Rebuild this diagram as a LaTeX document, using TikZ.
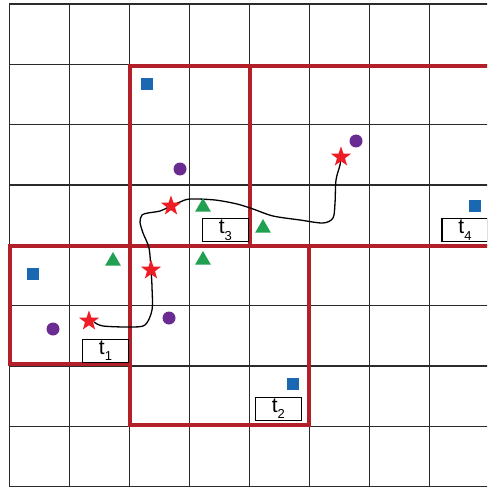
\documentclass[tikz,border=0pt]{standalone}
\usepackage{fontspec}
\setmainfont{Liberation Sans}
\usetikzlibrary{shapes.geometric}
\definecolor{gridc}{HTML}{2B2B2B}
\definecolor{redbox}{HTML}{B3202A}
\definecolor{sqblue}{HTML}{1A67B2}
\definecolor{dotpurple}{HTML}{6A2C91}
\definecolor{trigreen}{HTML}{20A050}
\definecolor{starred}{HTML}{EE1C25}
\newcommand{\tlab}[1]{t\raisebox{-0.32em}{\fontsize{13}{13}\selectfont #1}}
\begin{document}
\begin{tikzpicture}[x=1pt,y=-1pt,
 gridline/.style={draw=gridc, line width=1.1pt},
 region/.style={draw=redbox, line width=4pt},
 sq/.style={rectangle, fill=sqblue, minimum size=12pt, inner sep=0},
 dot/.style={circle, fill=dotpurple, minimum size=13pt, inner sep=0},
 tri/.style={regular polygon, regular polygon sides=3, fill=trigreen, minimum size=18pt, inner sep=0},
 starm/.style={star, star points=5, star point ratio=2.5, fill=starred, minimum size=21pt, inner sep=0},
 tbox/.style={draw=black, fill=white, line width=1.2pt, minimum width=46pt, minimum height=23pt, inner sep=0, font=\fontsize{21}{21}\selectfont},
 trackline/.style={draw=black, line width=1.3pt}
]
\useasboundingbox (0,0) rectangle (487,489);
\clip (0,0) rectangle (487,489);
% grid
\foreach \i in {0,...,7} \draw[gridline] ({9.3+60*\i},4) -- ({9.3+60*\i},486.7);
\foreach \j in {0,...,8} \draw[gridline] (9.3,{4+60.33*\j}) -- (495,{4+60.33*\j});
% regions
\draw[region] (10,245.5) rectangle (129.5,364);
\draw[region] (130,245.5) rectangle (308.5,424.5);
\draw[region] (130,66) rectangle (250,245.5);
\draw[region] (250,66) rectangle (495,245.5);
% star positions
\coordinate (p1) at (89,321);
\coordinate (p2) at (151,270);
\coordinate (p3) at (171,206);
\coordinate (p4) at (341,157);
% track
\draw[trackline] plot[smooth, tension=0.5] coordinates {(94,322) (103,326) (130,327) (145,325) (152,310) (152,287) (p2) (149,248) (143,233) (140,222) (142,215) (148,213) (160,211) (p3) (180,202) (190,199) (215,200) (237,204) (253,209) (273,216) (300,220) (323,223) (333,218) (335,203) (336,180) (340,165) (p4)};
% markers
\node[sq] (b1) at (147,84) {};
\node[sq] (b2) at (33,274) {};
\node[sq] (b3) at (293,384) {};
\node[sq] (b4) at (475,206) {};
\node[dot] (c1) at (180,169) {};
\node[dot] (c2) at (356,141) {};
\node[dot] (c3) at (53,329) {};
\node[dot] (c4) at (169,318) {};
\node[tri] (g1) at (203,207) {};
\node[tri] (g2) at (263,228) {};
\node[tri] (g3) at (203,260) {};
\node[tri] (g4) at (113,261) {};
\node[starm] (s1) at (p1) {};
\node[starm] (s2) at (p2) {};
\node[starm] (s3) at (p3) {};
\node[starm] (s4) at (p4) {};
% labels
\node[tbox] (t1) at (105.5,350.8) {\tlab{1}};
\node[tbox] (t2) at (278.3,408.7) {\tlab{2}};
\node[tbox] (t3) at (225.3,230.2) {\tlab{3}};
\node[tbox] (t4) at (465,230.3) {\tlab{4}};
\end{tikzpicture}
\end{document}
